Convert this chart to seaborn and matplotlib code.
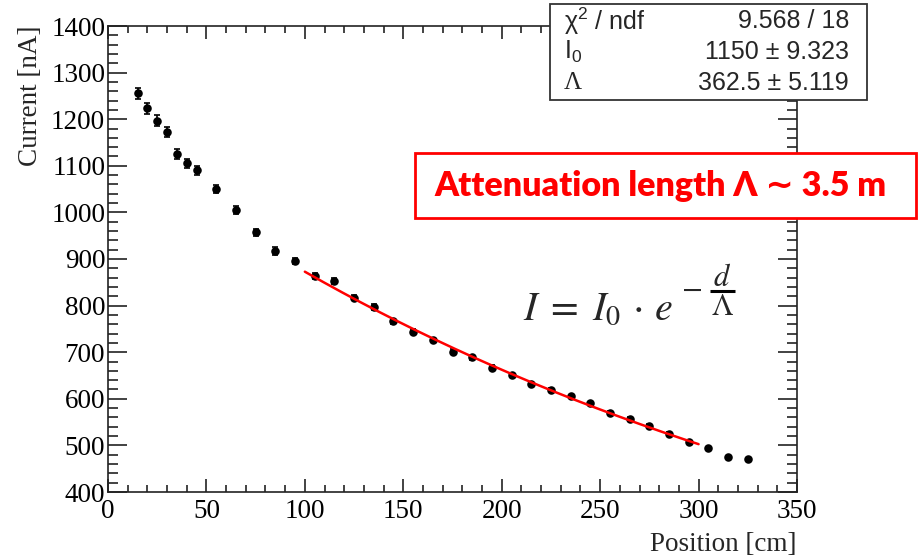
import numpy as np
import pandas as pd
import seaborn as sns
import matplotlib
matplotlib.use("Agg")
import matplotlib.pyplot as plt
from matplotlib.patches import Rectangle
from matplotlib.lines import Line2D
from matplotlib.ticker import MultipleLocator, FuncFormatter

# ---- data ----
position = [15, 20, 25, 30, 35, 40, 45, 55, 65, 75, 85, 95, 105, 115, 125, 135,
            145, 155, 165, 175, 185, 195, 205, 215, 225, 235, 245, 255, 265, 275,
            285, 295, 305, 315, 325]
current = [1256, 1223, 1197, 1173, 1125, 1105, 1090, 1050, 1005, 957, 917, 896,
           864, 853, 817, 797, 766, 744, 726, 701, 689, 667, 651, 632, 619, 605,
           590, 570, 557, 541, 525, 507, 494, 475, 471]
current_err = [12, 11, 11, 11, 10, 10, 10, 9, 9, 8, 8, 7, 7, 7, 6, 6, 6, 6, 5,
               5, 5, 5, 5, 5, 4, 4, 4, 4, 4, 4, 4, 4, 3, 3, 3]

fit_I0 = 1150.0
fit_lambda = 362.5
fit_start, fit_end = 100, 300

stat_labels = ["χ$^{2}$ / ndf", "I$_{0}$", "Λ"]
stat_values = ["9.568 / 18", "1150 ± 9.323", "362.5 ± 5.119"]

x_label = "Position [cm]"
y_label = "Current [nA]"
note_text = "Attenuation length Λ ∼ 3.5 m"
formula_main = r"$I\;=\;I_0\,\cdot\,e$"
formula_minus = r"$-$"
formula_num = r"$d$"
formula_den = r"$\Lambda$"

df = pd.DataFrame({"position": position, "current": current, "err": current_err})
d_fit = np.linspace(fit_start, fit_end, 300)
fit_df = pd.DataFrame({"position": d_fit, "current": fit_I0 * np.exp(-d_fit / fit_lambda)})

# ---- style ----
sns.set_theme(style="ticks")
plt.rcParams["font.family"] = ["Liberation Serif", "DejaVu Serif"]
plt.rcParams["font.serif"] = ["Liberation Serif", "DejaVu Serif"]
plt.rcParams["mathtext.fontset"] = "custom"
plt.rcParams["mathtext.rm"] = "Liberation Sans"
plt.rcParams["mathtext.it"] = "Liberation Sans:italic"
plt.rcParams["mathtext.cal"] = "Liberation Sans"
plt.rcParams["axes.formatter.use_mathtext"] = False

W, H = 921, 556
fig = plt.figure(figsize=(W / 100, H / 100), dpi=100)
ax = fig.add_axes([108 / W, 1 - 492 / H, (797 - 108) / W, (492 - 26) / H])

ax.errorbar(df["position"], df["current"], yerr=df["err"], fmt="none",
            ecolor="black", elinewidth=1.2, capsize=2.5, capthick=1.2, zorder=2)
sns.scatterplot(data=df, x="position", y="current", ax=ax, color="black",
                s=38, edgecolor="black", linewidth=0, zorder=3)
sns.lineplot(data=fit_df, x="position", y="current", ax=ax, color="#ff0000",
             linewidth=1.8, zorder=4)

ax.set_xlim(0, 350)
ax.set_ylim(400, 1400)
ax.xaxis.set_major_locator(MultipleLocator(50))
ax.xaxis.set_minor_locator(MultipleLocator(10))
ax.yaxis.set_major_locator(MultipleLocator(100))
ax.yaxis.set_minor_locator(MultipleLocator(20))
ax.xaxis.set_major_formatter(FuncFormatter(lambda v, p: f"{v:g}"))
ax.yaxis.set_major_formatter(FuncFormatter(lambda v, p: f"{v:g}"))

for sp in ax.spines.values():
    sp.set_visible(True)
    sp.set_linewidth(1.2)
    sp.set_color("#222222")

ax.tick_params(axis="both", which="both", direction="in", top=True, right=True,
               colors="#222222", labelcolor="black", labelsize=19.5, width=1.2,
               labelfontfamily="Liberation Serif")
ax.tick_params(axis="y", which="major", length=14, pad=2)
ax.tick_params(axis="y", which="minor", length=7)
ax.tick_params(axis="x", which="major", length=9.5, pad=5)
ax.tick_params(axis="x", which="minor", length=5)

ax.set_xlabel(x_label, fontsize=19.5, loc="right", labelpad=6)
ax.set_ylabel(y_label, fontsize=19.5, loc="top", labelpad=6)
ax.grid(False)

# ---- helpers: pixel -> figure fraction ----
def fx(px):
    return px / W

def fy(py):
    return 1 - py / H

# ---- stats box ----
fig.add_artist(Rectangle((fx(550), fy(100)), fx(867) - fx(550), fy(4) - fy(100),
                         transform=fig.transFigure, facecolor="white",
                         edgecolor="#333333", linewidth=1.3, zorder=5))
row_y = [21, 52, 83]
for i, (lab, val, ry) in enumerate(zip(stat_labels, stat_values, row_y)):
    fam = "Liberation Serif" if i == 2 else "Liberation Sans"
    fig.text(fx(564), fy(ry), lab, ha="left", va="center", fontsize=18,
             family=fam, zorder=6)
    fig.text(fx(849), fy(ry), val, ha="right", va="center", fontsize=18,
             family="Liberation Sans", zorder=6)

# ---- red annotation box ----
fig.add_artist(Rectangle((fx(415), fy(218)), fx(916) - fx(415), fy(153) - fy(218),
                         transform=fig.transFigure, facecolor="white",
                         edgecolor="#ff0000", linewidth=2, zorder=5))
fig.text(fx(660), fy(186), note_text, ha="center", va="center", fontsize=24.5,
         fontweight="heavy", color="#ff0000", family=["Lato", "DejaVu Sans"], zorder=6)

# ---- formula ----
fig.text(fx(523), fy(320), formula_main, ha="left", va="baseline", fontsize=29,
         math_fontfamily="stix", zorder=6)
fig.text(fx(691), fy(289), formula_minus, ha="center", va="center", fontsize=22,
         math_fontfamily="stix", zorder=6)
fig.text(fx(722), fy(286), formula_num, ha="center", va="baseline", fontsize=22,
         math_fontfamily="stix", zorder=6)
fig.text(fx(722.5), fy(315), formula_den, ha="center", va="baseline", fontsize=22,
         math_fontfamily="stix", zorder=6)
fig.add_artist(Line2D([fx(710), fx(735)], [fy(290.5), fy(290.5)],
                      transform=fig.transFigure, color="black", linewidth=2.2,
                      solid_capstyle="butt", zorder=6))

fig.savefig("out.png", dpi=100)
